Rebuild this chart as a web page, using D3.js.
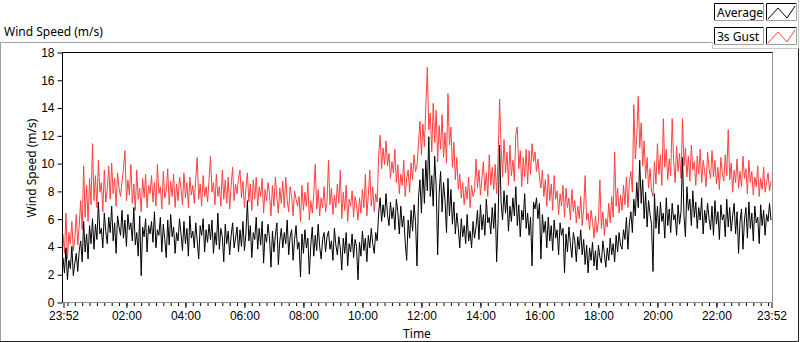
<!DOCTYPE html>
<html>
<head>
<meta charset="utf-8">
<script src="https://cdn.jsdelivr.net/npm/d3@7"></script>
<style>
  body { margin: 0; background: #fff; }
  svg { display: block; font-family: "Noto Sans", sans-serif; }
  .axis text { font-size: 12px; fill: #000; }
  .axis path { display: none; }
  .axis line { stroke: #000; }
</style>
</head>
<body>
<div id="chart"></div>
<script>
// 3 minute samples from 23:52 to 23:52 the next day (20 per hour + end point)
var average = [
  3.2, 2.1, 3.9, 1.6, 3.0, 2.4, 4.0, 1.9, 2.8, 3.5, 2.2, 3.7, 4.4, 2.9, 5.8, 3.6, 4.9, 3.1, 5.5, 4.2,
  6.0, 3.8, 5.6, 4.5, 7.2, 4.9, 5.3, 3.9, 6.4, 5.1, 4.2, 6.1, 5.0, 6.9, 4.4, 5.7, 3.5, 6.2, 5.4, 4.8,
  6.6, 4.6, 5.9, 4.0, 6.3, 5.2, 5.7, 4.4, 6.8, 4.1, 5.0, 3.3, 6.2, 1.9, 5.4, 4.7, 6.0, 3.6, 5.5, 4.9,
  5.8, 4.3, 6.5, 3.9, 5.2, 4.8, 6.1, 3.6, 5.6, 4.5, 3.2, 5.9, 4.1, 6.3, 4.7, 5.4, 3.5, 5.0, 4.4, 6.0,
  4.9, 3.7, 5.8, 4.2, 5.3, 3.3, 6.2, 4.6, 5.1, 3.9, 5.7, 4.4, 3.1, 5.5, 4.8, 6.0, 3.6, 5.2, 4.3, 5.6,
  4.5, 5.9, 3.5, 5.0, 4.1, 6.4, 3.8, 5.3, 4.7, 2.9, 5.6, 4.2, 5.1, 3.4, 4.8, 5.7, 3.9, 4.6, 5.4, 3.6,
  5.2, 4.0, 5.8, 3.7, 4.9, 7.3, 4.4, 5.5, 3.2, 5.0, 4.5, 6.1, 3.8, 5.3, 4.1, 5.8, 2.8, 4.9, 4.3, 5.6,
  4.6, 2.5, 5.1, 3.6, 4.8, 5.7, 2.7, 4.4, 5.3, 3.9, 5.0, 4.2, 5.9, 3.4, 4.7, 5.2, 3.0, 4.5, 5.5, 3.8,
  4.3, 1.8, 4.9, 3.5, 5.2, 3.9, 4.6, 2.0, 4.1, 5.4, 3.3, 4.8, 3.7, 5.6, 4.0, 3.1, 4.5, 5.0, 3.6, 4.7,
  5.1, 3.8, 4.4, 3.0, 5.3, 4.1, 3.4, 4.7, 3.9, 2.3, 4.6, 3.5, 5.0, 2.6, 4.2, 3.6, 4.9, 3.2, 4.5, 4.0,
  1.6, 4.3, 3.3, 5.1, 3.7, 4.6, 2.9, 4.8, 3.9, 5.3, 4.2, 3.5, 5.0, 4.4, 6.4, 7.5, 5.8, 7.0, 6.1, 7.8,
  6.3, 5.5, 7.2, 6.0, 6.8, 5.2, 7.4, 6.5, 4.9, 6.9, 5.4, 6.2, 4.3, 3.0, 5.9, 4.6, 6.6, 5.1, 7.0, 5.8,
  2.6, 7.5, 8.8, 6.4, 9.6, 7.1, 10.2, 8.0, 11.9, 7.6, 9.1, 6.9, 10.5, 8.3, 3.4, 7.8, 9.4, 6.5, 8.6, 7.3,
  5.0, 8.9, 6.2, 8.1, 5.6, 7.2, 4.9, 6.4, 5.3, 3.9, 6.0, 4.7, 5.5, 4.2, 6.3, 4.4, 5.1, 3.9, 5.8, 4.6,
  5.4, 6.6, 4.5, 7.0, 5.2, 6.3, 4.8, 7.4, 5.7, 6.1, 4.9, 6.8, 5.3, 7.1, 2.9, 6.0, 11.3, 7.2, 5.9, 8.0,
  6.4, 7.7, 5.1, 6.9, 5.8, 7.5, 6.2, 8.3, 5.5, 7.0, 4.7, 6.6, 5.9, 7.8, 5.3, 6.4, 4.8, 6.1, 2.6, 7.2,
  6.7, 7.5, 6.0, 7.1, 3.1, 6.3, 5.0, 5.8, 3.9, 6.1, 4.4, 5.5, 3.7, 5.9, 4.6, 5.2, 3.4, 5.7, 4.8, 5.3,
  2.1, 4.9, 3.6, 5.4, 4.2, 3.2, 5.0, 4.4, 2.9, 4.7, 3.8, 5.2, 3.4, 4.5, 2.7, 4.1, 2.1, 3.9, 3.0, 4.3,
  2.6, 3.7, 2.3, 4.1, 3.2, 2.8, 4.4, 3.5, 2.5, 3.9, 3.0, 4.6, 3.4, 4.2, 2.9, 4.8, 3.6, 5.0, 4.1, 3.8,
  5.2, 4.5, 6.1, 3.8, 5.7, 6.5, 5.0, 7.4, 6.2, 8.6, 6.8, 10.2, 7.1, 8.8, 6.0, 7.9, 5.4, 7.3, 6.3, 5.6,
  2.2, 7.8, 5.3, 6.9, 4.9, 7.2, 5.8, 6.4, 4.6, 7.5, 5.5, 6.7, 5.0, 7.1, 5.9, 6.3, 4.8, 7.0, 5.6, 6.5,
  10.4, 6.2, 4.7, 8.3, 6.6, 7.4, 5.5, 8.0, 6.1, 7.2, 5.3, 6.8, 5.9, 7.5, 4.9, 6.6, 5.7, 7.1, 6.0, 5.2,
  6.9, 4.8, 7.3, 5.6, 6.5, 4.5, 7.0, 5.9, 6.3, 4.7, 7.4, 5.4, 6.8, 5.1, 6.2, 7.1, 4.9, 6.5, 3.5, 5.8,
  6.7, 3.8, 5.9, 6.8, 4.6, 7.2, 5.3, 6.4, 4.4, 6.9, 5.7, 6.1, 4.2, 7.0, 5.5, 6.6, 4.8, 6.3, 5.8, 7.1,
  5.9
]

var gust = [
  4.9, 3.5, 6.4, 3.1, 5.0, 4.2, 5.8, 3.7, 4.6, 6.3, 4.1, 5.5, 7.3, 5.2, 9.8, 6.1, 8.4, 5.8, 8.9, 7.0,
  11.4, 7.3, 9.1, 6.8, 10.2, 7.9, 8.6, 6.5, 9.5, 7.2, 8.1, 9.8, 7.4, 10.0, 7.8, 8.9, 6.9, 9.3, 8.2, 7.6,
  8.7, 9.6, 10.9, 7.3, 8.8, 7.7, 9.9, 7.1, 8.5, 6.6, 9.5, 7.4, 8.2, 6.5, 8.9, 7.5, 9.2, 6.8, 8.4, 7.8,
  9.1, 7.2, 8.6, 6.9, 9.9, 7.8, 8.3, 6.7, 9.4, 7.5, 8.0, 9.6, 7.0, 8.7, 7.6, 9.2, 6.8, 8.5, 7.3, 9.0,
  8.2, 7.0, 9.3, 7.5, 8.6, 6.8, 9.0, 7.7, 8.4, 7.1, 8.9, 10.4, 7.4, 8.5, 6.9, 9.1, 7.6, 8.3, 7.2, 8.8,
  10.5, 7.9, 8.6, 7.0, 9.2, 7.6, 8.3, 6.9, 9.5, 7.4, 8.8, 7.1, 9.0, 6.7, 8.4, 9.7, 7.3, 8.5, 7.8, 8.9,
  9.5, 7.5, 8.7, 6.8, 8.2, 9.3, 7.2, 8.5, 6.6, 8.8, 7.4, 9.0, 6.9, 8.3, 7.6, 8.9, 6.4, 8.1, 7.3, 8.6,
  7.8, 6.2, 8.4, 6.9, 9.0, 7.5, 6.4, 8.2, 7.1, 8.7, 6.8, 9.0, 7.3, 6.5, 8.3, 7.6, 6.2, 8.0, 7.4, 6.9,
  7.6, 5.8, 8.4, 6.6, 7.9, 6.9, 8.6, 5.9, 7.3, 6.4, 7.8, 9.9, 6.7, 8.1, 6.2, 7.5, 6.8, 8.3, 6.5, 7.2,
  10.2, 7.0, 8.2, 6.3, 7.7, 6.8, 8.5, 7.1, 9.5, 6.0, 7.9, 6.6, 8.4, 5.8, 7.4, 6.9, 8.0, 6.1, 7.6, 7.0,
  5.9, 7.5, 6.4, 8.1, 6.8, 9.2, 6.2, 7.7, 9.5, 6.9, 8.3, 6.5, 7.8, 7.2, 10.5, 12.0, 9.6, 11.1, 9.9, 11.6,
  9.8, 10.7, 8.9, 10.1, 9.3, 11.0, 8.6, 9.9, 7.8, 9.2, 8.4, 10.2, 7.6, 8.9, 9.5, 7.9, 10.0, 8.8, 10.6, 9.4,
  9.8, 11.4, 13.0, 10.6, 12.8, 11.2, 14.1, 16.9, 12.4, 13.6, 10.8, 14.3, 11.5, 13.8, 10.1, 12.7, 11.0, 13.5, 10.4, 12.2,
  10.0, 15.0, 11.3, 12.6, 9.7, 11.5, 8.8, 10.4, 8.1, 9.2, 7.5, 8.6, 7.0, 8.3, 7.4, 9.0, 6.8, 8.4, 7.6, 8.0,
  10.3, 8.2, 9.5, 7.7, 8.9, 10.1, 8.0, 9.3, 7.6, 10.6, 8.4, 9.7, 8.1, 9.9, 7.8, 10.4, 14.6, 11.2, 9.0, 11.7,
  9.3, 10.8, 8.4, 11.3, 9.1, 10.2, 8.7, 12.1, 12.6, 9.6, 10.9, 8.3, 10.4, 9.0, 11.0, 8.5, 10.9, 9.2, 11.4, 10.1,
  10.8, 9.4, 10.3, 9.0, 8.2, 9.5, 7.6, 8.8, 6.9, 9.2, 7.3, 8.5, 6.6, 9.1, 7.4, 8.0, 6.3, 7.8, 6.9, 8.4,
  6.1, 8.2, 6.8, 7.5, 5.9, 8.1, 6.5, 7.3, 5.7, 6.9, 6.0, 7.6, 5.5, 6.7, 9.1, 5.9, 6.4, 5.2, 6.6, 5.8,
  4.6, 6.2, 5.0, 5.8, 8.8, 5.3, 6.5, 4.8, 6.0, 5.4, 7.1, 5.7, 7.6, 6.1, 10.8, 6.9, 8.2, 6.4, 7.7, 6.6,
  8.4, 7.0, 9.0, 6.8, 8.7, 9.4, 7.9, 14.2, 10.3, 12.0, 14.8, 11.1, 12.9, 9.8, 11.6, 8.9, 10.4, 8.2, 9.6, 8.0,
  7.6, 10.1, 8.5, 11.4, 9.2, 10.6, 8.4, 13.2, 9.7, 11.0, 8.8, 10.3, 9.1, 13.2, 10.2, 8.6, 11.2, 9.4, 10.7, 8.9,
  13.2, 9.8, 11.1, 9.0, 10.5, 8.7, 11.3, 9.5, 10.1, 8.4, 10.5, 9.2, 11.0, 8.6, 10.2, 9.4, 8.3, 10.8, 9.6, 8.9,
  10.9, 9.0, 10.2, 8.5, 9.7, 8.1, 10.4, 9.3, 8.7, 10.6, 9.1, 12.4, 8.8, 10.0, 7.9, 9.5, 8.6, 10.3, 8.2, 9.4,
  8.3, 10.5, 8.9, 9.6, 7.8, 10.2, 8.6, 9.4, 7.7, 9.0, 8.3, 9.8, 7.6, 8.9, 8.1, 9.7, 7.9, 8.6, 9.3, 8.0,
  8.7
]

var yTicks = [0, 2, 4, 6, 8, 10, 12, 14, 16, 18]
var seriesNames = ['Average', '3s Gust']
var seriesColors = ['#000000', '#ff4040']

var width = 800
var height = 342
var plot = { left: 62, right: 772, top: 52, bottom: 302 }

var start = new Date(2000, 0, 1, 23, 52)
var end = new Date(2000, 0, 2, 23, 52)

var svg = d3.select('#chart').append('svg')
  .attr('width', width)
  .attr('height', height)

// outer panel frame
svg.append('path')
  .attr('d', 'M0.5,341 V42.5 H711.5')
  .attr('fill', 'none')
  .attr('stroke', '#a0a0a0')
svg.append('path')
  .attr('d', 'M0,341.5 H798.5 V48')
  .attr('fill', 'none')
  .attr('stroke', '#202020')

// legend panel
svg.append('path')
  .attr('d', 'M712.5,42 V48.5 H798.5 V0')
  .attr('fill', 'none')
  .attr('stroke', '#c8c8c8')

svg.append('text')
  .attr('x', 4)
  .attr('y', 36)
  .style('font-size', '12px')
  .text('Wind Speed (m/s)')

var x = d3.scaleTime()
  .domain([start, end])
  .range([plot.left + 1, plot.right - 1])

var y = d3.scaleLinear()
  .domain([0, 18])
  .range([plot.bottom, plot.top])

// plot frame: dark on top/left, grey on bottom/right
svg.append('path')
  .attr('d', 'M' + (plot.right + 0.5) + ',' + (plot.top + 0.5) + ' V' + (plot.bottom + 0.5) + ' H' + (plot.left + 0.5))
  .attr('fill', 'none')
  .attr('stroke', '#909090')
svg.append('path')
  .attr('d', 'M' + (plot.left + 0.5) + ',' + (plot.bottom + 0.5) + ' V' + (plot.top + 0.5) + ' H' + (plot.right + 0.5))
  .attr('fill', 'none')
  .attr('stroke', '#000')

// y axis
svg.append('g')
  .attr('class', 'axis')
  .attr('transform', 'translate(' + (plot.left + 0.5) + ',0.5)')
  .call(d3.axisLeft(y).tickValues(yTicks).tickSize(5).tickPadding(3))

svg.append('text')
  .attr('transform', 'translate(36,168) rotate(-90)')
  .style('font-size', '12px')
  .style('text-anchor', 'middle')
  .text('Wind Speed (m/s)')

// x axis: majors every 2 h plus the end points, minors every 15 min
var majors = [start].concat(d3.timeHour.every(2).range(start, end).filter(function (d) {
  return d - start > 3600000
})).concat([end])
var minors = d3.timeMinute.every(15).range(start, end)

svg.append('g')
  .attr('class', 'axis')
  .attr('transform', 'translate(0.5,' + (plot.bottom + 1) + ')')
  .call(d3.axisBottom(x).tickValues(minors).tickSize(3).tickFormat(''))

svg.append('g')
  .attr('class', 'axis')
  .attr('transform', 'translate(0.5,' + (plot.bottom + 1) + ')')
  .call(d3.axisBottom(x).tickValues(majors).tickSize(5).tickPadding(3)
    .tickFormat(d3.timeFormat('%H:%M')))

svg.append('text')
  .attr('x', (plot.left + plot.right) / 2)
  .attr('y', 338)
  .style('font-size', '12px')
  .style('text-anchor', 'middle')
  .text('Time')

// series
svg.append('clipPath')
  .attr('id', 'plotclip')
  .append('rect')
  .attr('x', plot.left + 1)
  .attr('y', plot.top + 1)
  .attr('width', plot.right - plot.left - 1)
  .attr('height', plot.bottom - plot.top - 1)

function sampleTime (i, n) {
  return new Date(start.getTime() + i * (end - start) / (n - 1))
}

var g = svg.append('g').attr('clip-path', 'url(#plotclip)')

;[gust, average].forEach(function (values, k) {
  var line = d3.line()
    .x(function (d, i) { return x(sampleTime(i, values.length)) })
    .y(function (d) { return y(d) })
  g.append('path')
    .datum(values)
    .attr('d', line)
    .attr('fill', 'none')
    .attr('stroke', seriesColors[1 - k])
    .attr('stroke-width', 1)
})

// legend: sunken boxes (dark top/left, light bottom/right)
function sunkenBox (x0, y0, w, h) {
  legend.append('rect')
    .attr('x', x0).attr('y', y0)
    .attr('width', w).attr('height', h)
    .attr('fill', '#fff')
  legend.append('path')
    .attr('d', 'M' + (x0 + 0.5) + ',' + (y0 + h) + ' V' + (y0 + 0.5) + ' H' + (x0 + w))
    .attr('fill', 'none').attr('stroke', '#000')
  legend.append('path')
    .attr('d', 'M' + (x0 + w - 0.5) + ',' + y0 + ' V' + (y0 + h - 0.5) + ' H' + x0)
    .attr('fill', 'none').attr('stroke', '#a0a0a0')
}

var legend = svg.append('g')
seriesNames.forEach(function (name, i) {
  var top = 3 + i * 24
  sunkenBox(714, top, 50, 18)
  legend.append('text')
    .attr('x', 717).attr('y', top + 14)
    .style('font-size', '12px')
    .text(name)
  sunkenBox(766, top, 31, 18)
  legend.append('path')
    .attr('d', 'M768,' + (top + 16) + ' L778,' + (top + 5) + ' L787,' + (top + 15) + ' L795,' + (top + 3))
    .attr('fill', 'none')
    .attr('stroke', seriesColors[i])
})
</script>
</body>
</html>
